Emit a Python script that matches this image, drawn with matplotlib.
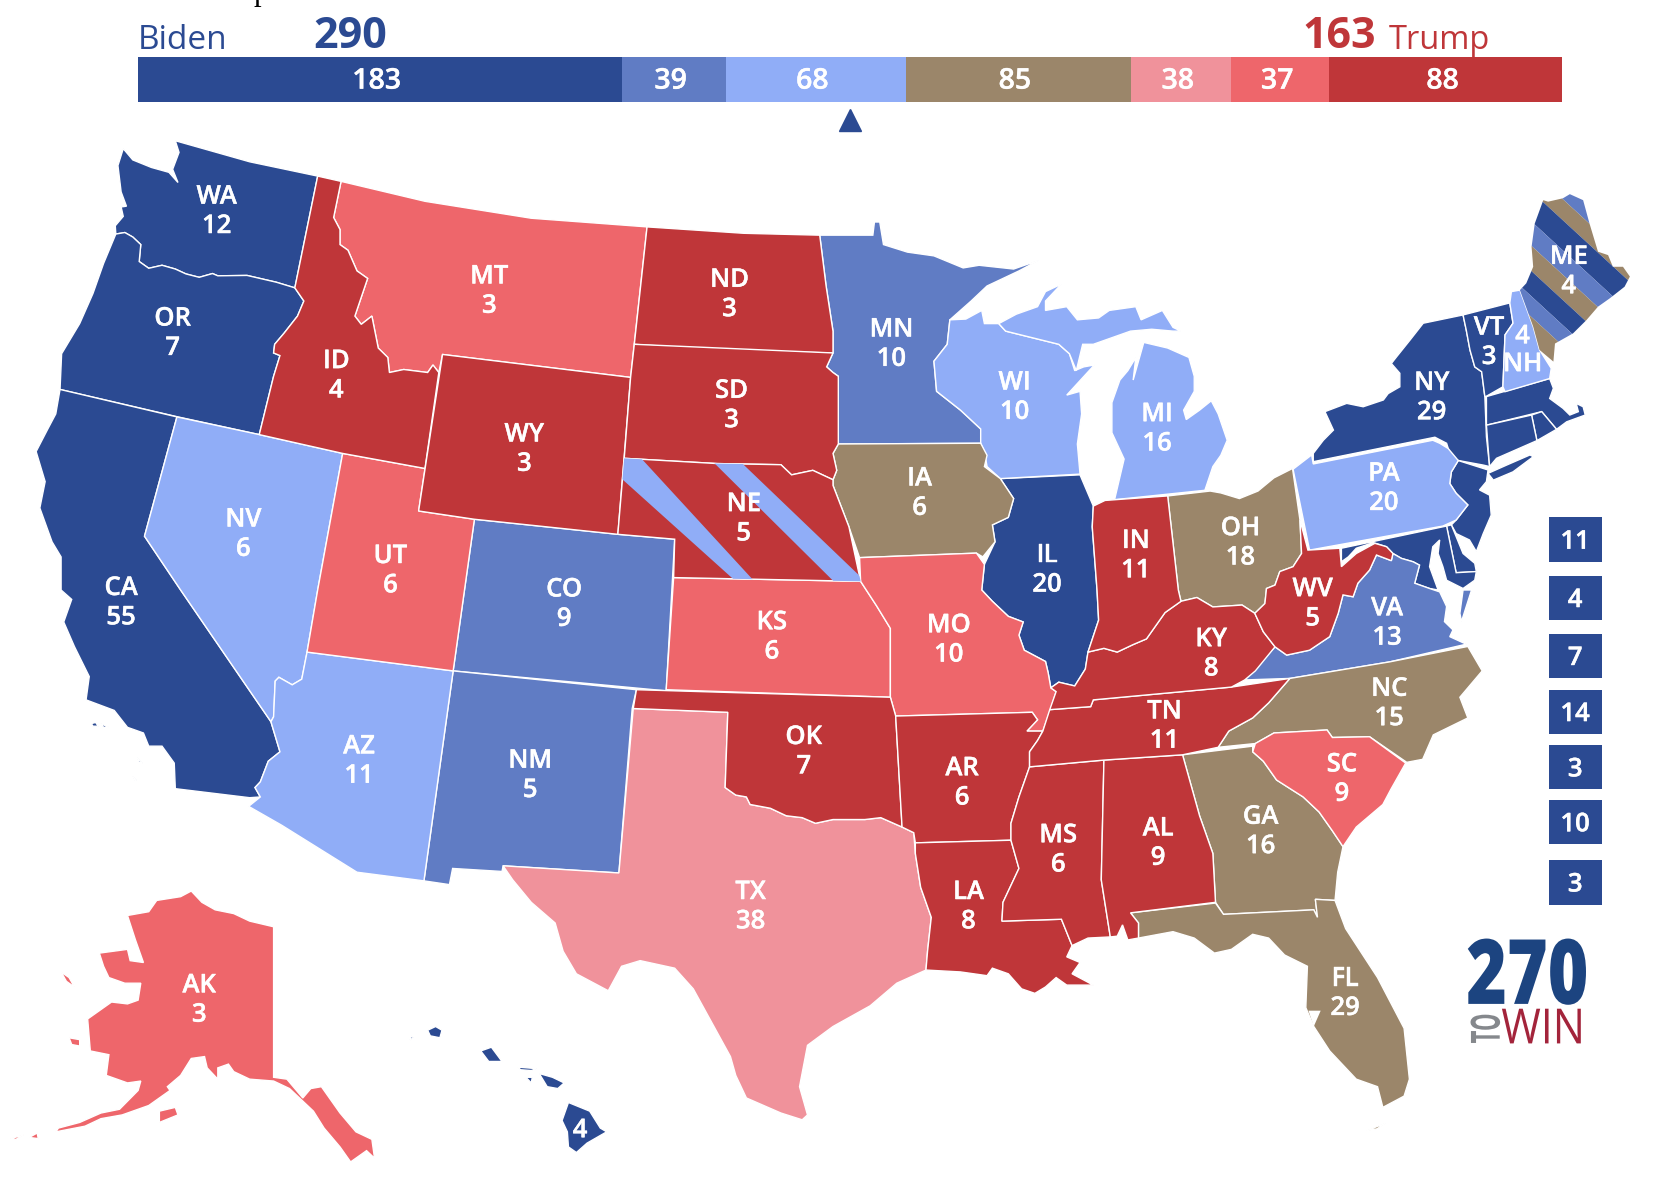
#!/usr/bin/env python3
"""270toWin style electoral map: rating bar on top, state shapes below."""

import matplotlib
matplotlib.use("Agg")
import matplotlib.pyplot as plt
import matplotlib.patheffects as pe
from matplotlib.patches import Polygon, Rectangle
from matplotlib.transforms import Affine2D

plt.rcParams["font.family"] = ["Open Sans", "DejaVu Sans"]

# Rating bar
BAR_VOTES = [183, 39, 68, 85, 38, 37, 88]
TOTAL_VOTES = 538
TO_WIN = 269
BIDEN_TOTAL = 290
TRUMP_TOTAL = 163

DARK = "#2b4a92"
MID = "#607cc4"
LIGHT = "#90adf7"
TAN = "#9b866a"
PINK = "#f0929b"
SALMON = "#ee666b"
RED = "#bf3639"
BAR_COLORS = [DARK, MID, LIGHT, TAN, PINK, SALMON, RED]

# Small north east states, listed beside the map
BOX_VOTES = [11, 4, 7, 14, 3, 10, 3]
BOX_TOPS = [1375, 1530, 1684, 1833, 1980, 2126, 2286]

# State outlines (map units: 3136 x 3136 over the figure)
WA = [(330,374),(470,430),(598,468),(555,765),(520,750),(465,732),(410,733),(400,727),(375,737),(350,728),(330,715),(305,705),(280,713),(262,695),(265,650),(250,630),(235,618),(218,622),(217,600),(232,575),(228,550),(238,548),(228,510),(222,440),(232,395),(250,425),(285,445),(318,458),(335,485),(325,450),(337,405)]
OR = [(218,622),(235,618),(250,630),(265,650),(262,695),(280,713),(305,705),(330,715),(350,728),(375,737),(400,727),(410,733),(465,732),(520,750),(555,765),(572,800),(560,840),(535,885),(517,915),(515,938),(527,945),(515,1000),(488,1155),(335,1108),(113,1035),(116,940),(150,860),(175,780),(195,700)]
CA = [(113,1035),(333,1108),(272,1425),(340,1568),(510,1918),(527,1998),(505,2023),(490,2078),(480,2093),(490,2118),(470,2120),(330,2096),(328,2028),(305,1983),(280,1983),(270,1948),(240,1933),(215,1888),(162,1860),(168,1798),(140,1718),(120,1653),(135,1593),(115,1568),(115,1480),(98,1440),(75,1350),(85,1280),(68,1200),(90,1140),(105,1100)]
NV = [(333,1108),(488,1155),(645,1205),(598,1568),(578,1733),(568,1805),(550,1820),(525,1800),(518,1810),(515,1905),(510,1918),(340,1568),(272,1425)]
ID = [(598,468),(642,482),(628,578),(640,610),(640,650),(655,665),(672,720),(692,740),(668,840),(680,862),(700,840),(712,925),(730,950),(733,990),(760,982),(805,990),(815,970),(826,990),(800,1245),(645,1205),(488,1155),(515,1000),(527,945),(515,938),(517,915),(535,885),(560,840),(572,800),(555,765)]
MT = [(642,482),(800,535),(1000,580),(1218,603),(1187,1003),(833,942),(826,990),(815,970),(805,990),(760,982),(733,990),(730,950),(712,925),(700,840),(680,862),(668,840),(692,740),(672,720),(655,665),(640,650),(640,610),(628,578)]
WY = [(833,942),(1187,1003),(1163,1420),(893,1380),(788,1358)]
UT = [(645,1205),(800,1245),(788,1358),(893,1380),(853,1783),(578,1733),(598,1568)]
CO = [(893,1380),(1163,1420),(1270,1433),(1254,1836),(853,1783)]
NM = [(853,1783),(1198,1833),(1190,1883),(1165,2320),(947,2301),(945,2316),(852,2308),(846,2351),(798,2341)]
AZ = [(578,1733),(853,1783),(798,2341),(672,2318),(530,2193),(468,2143),(490,2118),(480,2093),(490,2078),(505,2023),(527,1998),(510,1918),(515,1905),(518,1810),(525,1800),(550,1820),(568,1805)]
TX = [(1192,1883),(1370,1893),(1365,2093),(1385,2113),(1405,2118),(1412,2138),(1450,2148),(1480,2168),(1510,2173),(1535,2188),(1568,2178),(1628,2178),(1658,2173),(1698,2198),(1720,2213),(1723,2268),(1733,2358),(1753,2438),(1746,2528),(1743,2578),(1688,2613),(1638,2673),(1568,2728),(1520,2778),(1505,2888),(1520,2963),(1510,2976),(1470,2958),(1405,2918),(1385,2858),(1375,2808),(1305,2628),(1270,2573),(1205,2553),(1170,2568),(1145,2633),(1085,2588),(1060,2528),(1045,2453),(1000,2398),(965,2338),(947,2301),(1165,2320)]
OK = [(1198,1833),(1676,1853),(1686,1903),(1698,2198),(1658,2173),(1628,2178),(1568,2178),(1535,2188),(1510,2173),(1480,2168),(1450,2148),(1412,2138),(1405,2118),(1385,2113),(1365,2093),(1370,1893),(1192,1883)]
KS = [(1268,1535),(1620,1545),(1650,1610),(1676,1670),(1676,1853),(1254,1833)]
NE = [(1175,1218),(1350,1232),(1470,1235),(1490,1262),(1530,1250),(1568,1275),(1568,1290),(1598,1400),(1620,1545),(1268,1535),(1270,1433),(1163,1420)]
ND = [(1218,603),(1400,620),(1543,625),(1555,760),(1568,880),(1568,938),(1380,932),(1194,915)]
SD = [(1194,915),(1568,938),(1556,975),(1568,990),(1578,1000),(1578,1180),(1568,1205),(1575,1250),(1568,1275),(1530,1250),(1490,1262),(1470,1235),(1350,1232),(1175,1218),(1187,1003)]
MN = [(1543,625),(1643,625),(1646,590),(1656,590),(1663,650),(1708,670),(1758,680),(1813,712),(1843,705),(1908,715),(1955,692),(1918,720),(1858,760),(1828,800),(1788,850),(1783,915),(1758,960),(1763,1040),(1808,1090),(1846,1140),(1846,1178),(1578,1180),(1578,1000),(1568,990),(1556,975),(1568,938),(1568,880),(1555,760)]
WI = [(1788,850),(1818,848),(1848,825),(1853,860),(1880,860),(1893,880),(1993,915),(2013,940),(2023,985),(2040,975),(2060,970),(2008,1050),(2033,1040),(2036,1100),(2028,1180),(2033,1260),(1883,1272),(1858,1240),(1853,1200),(1846,1178),(1846,1140),(1808,1090),(1763,1040),(1758,960),(1783,915)]
MI_UPPER = [(1880,860),(1913,835),(1953,815),(1968,775),(1998,755),(1968,800),(1968,825),(2008,815),(2028,850),(2068,845),(2088,825),(2138,815),(2148,850),(2188,825),(2208,870),(2223,880),(2208,880),(2168,875),(2128,880),(2058,915),(2038,915),(2026,985),(2013,940),(1993,915),(1893,880)]
MI_LOWER = [(2153,910),(2198,925),(2238,950),(2248,1000),(2248,1040),(2228,1090),(2233,1115),(2258,1090),(2280,1065),(2293,1100),(2310,1170),(2298,1210),(2283,1240),(2268,1303),(2098,1328),(2116,1220),(2093,1150),(2093,1070),(2108,1010),(2123,985),(2138,950),(2133,1010),(2143,960)]
IA = [(1578,1180),(1846,1178),(1858,1210),(1853,1240),(1883,1272),(1908,1325),(1898,1375),(1868,1395),(1873,1440),(1850,1480),(1838,1470),(1618,1482),(1598,1400),(1568,1290),(1568,1275),(1575,1250),(1568,1205)]
MO = [(1618,1482),(1838,1470),(1853,1500),(1848,1568),(1868,1598),(1898,1638),(1926,1653),(1918,1688),(1928,1728),(1968,1758),(1973,1788),(1978,1828),(1988,1838),(1978,1883),(1963,1943),(1933,1943),(1953,1913),(1943,1893),(1686,1903),(1676,1853),(1676,1670),(1650,1610),(1620,1545)]
IL = [(1883,1272),(2033,1262),(2058,1345),(2056,1400),(2065,1568),(2068,1648),(2048,1733),(2043,1778),(2023,1823),(1993,1813),(1978,1828),(1973,1788),(1968,1758),(1928,1728),(1918,1688),(1926,1653),(1898,1638),(1868,1598),(1848,1568),(1853,1500),(1873,1440),(1868,1395),(1898,1375),(1908,1325)]
IN = [(2058,1345),(2080,1330),(2198,1318),(2218,1568),(2223,1598),(2193,1628),(2173,1668),(2158,1698),(2133,1713),(2103,1733),(2078,1723),(2048,1733),(2068,1648),(2065,1568),(2056,1400)]
OH = [(2198,1318),(2278,1305),(2298,1310),(2333,1325),(2368,1305),(2398,1270),(2433,1245),(2447,1382),(2450,1471),(2434,1506),(2409,1519),(2400,1555),(2384,1564),(2381,1604),(2362,1630),(2338,1608),(2283,1613),(2253,1588),(2223,1598),(2218,1568)]
PA = [(2434,1247),(2469,1209),(2472,1233),(2697,1170),(2710,1178),(2726,1192),(2745,1224),(2732,1254),(2729,1285),(2741,1311),(2763,1342),(2741,1382),(2716,1398),(2465,1462)]
NY = [(2754,837),(2760,877),(2767,930),(2776,975),(2789,988),(2795,1054),(2798,1161),(2804,1240),(2792,1236),(2742,1223),(2729,1205),(2723,1178),(2701,1162),(2472,1227),(2472,1205),(2491,1170),(2510,1143),(2494,1094),(2535,1072),(2566,1081),(2604,1063),(2613,1046),(2635,1028),(2635,992),(2619,966),(2629,948),(2654,904),(2679,859)]
NY_LONG_ISLAND = [(2801,1258),(2836,1236),(2880,1209),(2886,1214),(2848,1254),(2811,1276)]
VT = [(2754,837),(2842,805),(2848,859),(2833,890),(2829,1028),(2798,1053),(2795,1054),(2789,988),(2776,975),(2767,930),(2760,877)]
NH = [(2845,775),(2861,771),(2886,868),(2898,930),(2920,979),(2917,1006),(2833,1041),(2829,1028),(2833,890),(2848,859),(2842,805)]
ME = [(2905,532),(2914,536),(2942,527),(2955,516),(2980,532),(2992,594),(3008,669),(3027,678),(3036,709),(3055,709),(3068,735),(3058,762),(3030,793),(3008,815),(2986,851),(2961,886),(2927,913),(2924,961),(2898,930),(2886,868),(2861,771),(2873,753),(2886,709),(2883,656),(2889,594)]
MA = [(2798,1054),(2917,1006),(2924,1032),(2917,1059),(2942,1085),(2955,1103),(2971,1094),(2967,1072),(2980,1081),(2984,1103),(2949,1121),(2930,1141),(2902,1094),(2798,1130)]
RI = [(2883,1103),(2902,1094),(2930,1141),(2893,1171)]
CT = [(2798,1130),(2883,1103),(2893,1171),(2817,1218),(2804,1240),(2801,1187)]
NJ = [(2745,1224),(2801,1249),(2798,1280),(2785,1302),(2804,1316),(2807,1369),(2792,1418),(2779,1466),(2766,1435),(2741,1418),(2732,1395),(2741,1382),(2763,1342),(2741,1311),(2729,1285),(2732,1254)]
DE = [(2723,1398),(2732,1395),(2741,1426),(2754,1471),(2776,1497),(2779,1519),(2741,1522)]
MD = [(2525,1457),(2723,1398),(2741,1522),(2779,1519),(2776,1542),(2754,1564),(2723,1542),(2716,1506),(2707,1471),(2710,1435),(2697,1453),(2691,1506),(2707,1568),(2691,1564),(2663,1550),(2672,1502),(2660,1493),(2638,1484),(2622,1471),(2610,1453),(2585,1442),(2553,1457),(2538,1480),(2525,1493)]
WV = [(2447,1382),(2462,1462),(2522,1457),(2525,1506),(2553,1471),(2588,1444),(2610,1453),(2622,1471),(2619,1490),(2591,1475),(2578,1515),(2556,1550),(2547,1586),(2528,1581),(2519,1630),(2503,1692),(2465,1728),(2422,1741),(2400,1719),(2378,1679),(2362,1630),(2381,1604),(2384,1564),(2400,1555),(2409,1519),(2434,1506),(2450,1471)]
VA = [(2343,1807),(2400,1719),(2422,1741),(2465,1728),(2503,1692),(2519,1630),(2528,1581),(2547,1586),(2556,1550),(2578,1515),(2591,1475),(2619,1490),(2622,1471),(2638,1484),(2660,1493),(2672,1502),(2663,1550),(2691,1564),(2710,1573),(2723,1612),(2719,1652),(2735,1674),(2729,1692),(2760,1712),(2616,1759),(2428,1803)]
VA_SHORE = [(2754,1568),(2770,1568),(2760,1612),(2751,1652),(2748,1630)]
NC = [(2763,1718),(2790,1783),(2748,1853),(2763,1908),(2698,1953),(2678,2018),(2648,2026),(2578,1958),(2508,1960),(2498,1940),(2398,1948),(2363,1976),(2293,1986),(2313,1943),(2358,1908),(2388,1868),(2428,1803),(2616,1759)]
SC = [(2358,1998),(2363,1976),(2398,1948),(2498,1940),(2508,1960),(2578,1958),(2646,2028),(2618,2098),(2603,2138),(2553,2198),(2528,2250),(2508,2208),(2483,2158),(2453,2118),(2403,2073),(2378,2023)]
GA = [(2226,2006),(2358,1983),(2358,1998),(2378,2023),(2403,2073),(2453,2118),(2483,2158),(2508,2208),(2528,2250),(2518,2318),(2513,2393),(2476,2390),(2480,2438),(2473,2418),(2303,2430),(2288,2398),(2283,2268),(2258,2168)]
FL = [(2128,2426),(2288,2400),(2303,2430),(2473,2418),(2480,2438),(2476,2390),(2513,2393),(2533,2468),(2593,2598),(2643,2733),(2653,2868),(2643,2913),(2603,2943),(2593,2888),(2553,2868),(2503,2793),(2473,2728),(2458,2678),(2461,2568),(2418,2538),(2388,2493),(2358,2483),(2318,2523),(2286,2533),(2248,2493),(2208,2476),(2143,2493),(2143,2453)]
FL_KEYS = [(2573,3005),(2590,2995),(2608,2985),(2592,3000)]
FL_TAMPA_BAY = [(2463,2686),(2486,2686),(2473,2728)]
AL = [(2078,2020),(2226,2006),(2258,2168),(2283,2268),(2288,2398),(2128,2426),(2143,2453),(2143,2493),(2123,2498),(2113,2458),(2103,2488),(2090,2490),(2073,2338)]
MS = [(1938,2038),(2078,2020),(2073,2338),(2090,2490),(2048,2493),(2018,2513),(1998,2443),(1886,2448),(1888,2398),(1918,2308),(1908,2258),(1903,2233),(1903,2188),(1918,2118)]
LA = [(1723,2240),(1903,2233),(1908,2258),(1918,2308),(1888,2398),(1886,2448),(1998,2443),(2018,2513),(2008,2543),(2033,2558),(2018,2588),(2058,2618),(2008,2618),(1988,2598),(1968,2623),(1948,2640),(1923,2628),(1898,2588),(1868,2573),(1858,2593),(1808,2583),(1743,2578),(1746,2528),(1753,2438),(1733,2358),(1723,2268)]
AR = [(1686,1903),(1943,1893),(1953,1913),(1933,1943),(1963,1943),(1953,1968),(1938,1998),(1938,2038),(1918,2118),(1903,2188),(1903,2233),(1723,2240),(1720,2213),(1698,2198)]
TN = [(1976,1886),(2053,1878),(2058,1860),(2318,1826),(2428,1803),(2388,1868),(2358,1908),(2313,1943),(2293,1986),(2226,2006),(2078,2020),(1938,2038),(1938,1998),(1953,1968),(1963,1943)]
KY = [(1988,1838),(1978,1828),(1993,1813),(2023,1823),(2043,1778),(2048,1733),(2078,1723),(2103,1733),(2133,1713),(2158,1698),(2173,1668),(2193,1628),(2223,1598),(2253,1588),(2283,1613),(2338,1608),(2362,1630),(2378,1679),(2400,1719),(2363,1783),(2343,1807),(2318,1826),(2058,1860),(2053,1878),(1976,1886)]
AK = [(240,2433),(280,2423),(295,2393),(340,2383),(360,2368),(380,2398),(405,2418),(440,2428),(470,2448),(515,2463),(515,2863),(540,2868),(570,2918),(585,2893),(605,2888),(640,2958),(670,3008),(700,3028),(705,3078),(690,3058),(660,3088),(640,3048),(610,2998),(590,2953),(545,2893),(515,2873),(470,2868),(440,2848),(430,2828),(410,2838),(410,2868),(390,2838),(385,2808),(360,2813),(340,2858),(315,2888),(320,2898),(280,2938),(230,2963),(190,2973),(160,2993),(105,3008),(110,2998),(150,2983),(190,2958),(225,2948),(260,2898),(265,2873),(240,2878),(200,2858),(205,2803),(170,2793),(165,2708),(195,2678),(210,2663),(240,2668),(260,2658),(265,2613),(235,2613),(205,2598),(195,2568),(187,2533),(240,2523),(245,2553),(270,2558),(255,2498)]
AK_KODIAK = [(300,2953),(330,2943),(335,2963),(300,2983)]
AK_LAWRENCE = [(115,2583),(130,2598),(140,2623),(125,2608)]
AK_NUNIVAK = [(130,2758),(150,2763),(150,2780),(135,2776)]
AK_ALEUT_1 = [(20,3026),(45,3016),(30,3028)]
AK_ALEUT_2 = [(55,3023),(70,3011),(72,3026)]
HI_BIG = [(1070,2930),(1110,2953),(1130,2998),(1142,3008),(1105,3038),(1085,3063),(1070,3048),(1068,3008),(1058,2978)]
HI_MAUI = [(1015,2853),(1040,2863),(1062,2878),(1050,2893),(1030,2888)]
HI_MOLOKAI = [(975,2836),(1010,2840),(1000,2845),(980,2843)]
HI_LANAI = [(990,2863),(1002,2863),(1000,2878)]
HI_OAHU = [(905,2793),(925,2783),(945,2821),(920,2821)]
HI_KAUAI = [(805,2738),(820,2728),(832,2738),(828,2758),(810,2753)]
HI_NIIHAU = [(775,2753),(778,2758),(770,2766)]
CA_ISLAND_1 = [(172,1923),(180,1920),(185,1930),(175,1930)]
CA_ISLAND_2 = [(190,1923),(205,1933),(195,1933)]
CA_ISLAND_3 = [(258,2013),(268,2028),(262,2026)]
CA_ISLAND_4 = [(250,2063),(257,2073),(254,2075)]

DARK_SHAPES = [WA, OR, CA, IL, NY, NY_LONG_ISLAND, VT, MA, RI, CT, NJ, DE, MD, HI_BIG, HI_MAUI, HI_MOLOKAI,
               HI_LANAI, HI_OAHU, HI_KAUAI, HI_NIIHAU, CA_ISLAND_1, CA_ISLAND_2, CA_ISLAND_3, CA_ISLAND_4]
MID_SHAPES = [MN, CO, NM, VA, VA_SHORE]
LIGHT_SHAPES = [NV, AZ, WI, MI_UPPER, MI_LOWER, PA, NH]
TAN_SHAPES = [IA, OH, NC, GA, FL, FL_KEYS]
PINK_SHAPES = [TX]
SALMON_SHAPES = [MT, UT, KS, MO, SC, AK, AK_KODIAK, AK_LAWRENCE, AK_NUNIVAK, AK_ALEUT_1, AK_ALEUT_2]
RED_SHAPES = [ID, WY, ND, SD, NE, OK, AR, LA, MS, AL, TN, KY, IN, WV]

# Split states: Nebraska stripes and Maine bands
NE_STRIPE_1 = [(1170,1215),(1205,1215),(1420,1545),(1385,1545),(1170,1272)]
NE_STRIPE_2 = [(1344,1230),(1396,1230),(1640,1560),(1580,1560)]
ME_BAND_SLOPE = 1.3
ME_BAND_EDGES = [-3400, -3295, -3239, -3159, -3094, -3027, -2960, -2905, -2833, -2756]
ME_BAND_COLORS = [MID, TAN, DARK, MID, TAN, DARK, MID, TAN, DARK]

# Map labels
LABEL_STATES = ["WA","OR","ID","MT","ND","SD","WY","NE","NV","UT","CO","CA","KS","AZ","NM","OK","TX","AK",
                "MN","WI","MI","IA","IL","IN","OH","PA","NY","VT","ME","WV","MO","KY","VA","NC","TN","AR",
                "SC","GA","AL","MS","LA","FL"]
LABEL_VOTES = [12,7,4,3,3,3,3,5,6,6,9,55,6,11,5,7,38,3,
               10,10,16,6,20,11,18,20,29,3,4,5,10,8,13,15,11,6,
               9,16,9,6,8,29]
LABEL_X = [408,325,633,921,1373,1377,987,1400,458,735,1062,228,1453,676,998,1513,1413,375,
           1678,1910,2178,1731,1971,2138,2335,2605,2695,2803,2953,2471,1786,2280,2611,2615,2192,1811,
           2526,2373,2180,1992,1823,2532]
LABEL_Y = [556,880,993,768,777,1072,1188,1373,1414,1511,1600,1596,1687,2017,2055,1992,2404,2652,
           909,1050,1134,1305,1509,1471,1437,1292,1051,904,716,1599,1695,1732,1650,1864,1924,2075,
           2065,2204,2235,2253,2404,2634]
LINE_GAP = 39
LABEL_SHIFT = 7
LABEL_SIZE = 18.5

W_UNITS = 3136
BOLDER = [pe.withStroke(linewidth=0.3, foreground="white")]


class Squeeze(pe.AbstractPathEffect):
    """Narrow a text along its own direction, there is no condensed font here."""

    def __init__(self, sx):
        super().__init__()
        self.sx = sx

    def draw_path(self, renderer, gc, tpath, affine, rgbFace=None):
        renderer.draw_path(gc, tpath, Affine2D().scale(self.sx, 1) + affine, rgbFace)


def add_shapes(ax, shapes, color):
    for shape in shapes:
        ax.add_patch(Polygon(shape, closed=True, facecolor=color, edgecolor="white", linewidth=1.0, zorder=2))


def white_label(ax, x, y, s, size=LABEL_SIZE):
    ax.text(x, y, s, color="white", fontsize=size, fontweight="semibold", ha="center", va="center",
            zorder=5, path_effects=BOLDER)


def draw_bar(fig):
    # bar axes sits over the rating strip, its x axis counts electoral votes
    ax = fig.add_axes([259 / W_UNITS, 1 - 272 / W_UNITS, (2941 - 259) / W_UNITS, 120 / W_UNITS])
    ax.set_xlim(0, TOTAL_VOTES)
    ax.set_ylim(0, 1)
    ax.axis("off")
    left = 0
    for votes, color in zip(BAR_VOTES, BAR_COLORS):
        ax.barh(0.5, votes, height=1, left=left, color=color, linewidth=0)
        white_label(ax, left + votes / 2 - 1.2, 0.47, str(votes), size=20.5)
        left += votes
    ax.plot(TO_WIN, -0.38, marker="^", markersize=16.5, color=DARK, clip_on=False, linestyle="none")


def draw_header(ax):
    ax.text(260, 131, "Biden", color=DARK, fontsize=24, ha="left", va="baseline")
    ax.text(590, 128, str(BIDEN_TOTAL), color=DARK, fontsize=31, fontweight="bold", ha="left", va="baseline")
    ax.text(2590, 128, str(TRUMP_TOTAL), color=RED, fontsize=31, fontweight="bold", ha="right", va="baseline")
    ax.text(2615, 131, "Trump", color=RED, fontsize=23.5, ha="left", va="baseline")
    # tail of a cut off line above the chart
    ax.text(491, 0, "p", color="black", fontsize=22, family="Liberation Serif", ha="center", va="baseline")


def draw_map(ax):
    add_shapes(ax, DARK_SHAPES, DARK)
    add_shapes(ax, MID_SHAPES, MID)
    add_shapes(ax, LIGHT_SHAPES, LIGHT)
    add_shapes(ax, TAN_SHAPES, TAN)
    add_shapes(ax, PINK_SHAPES, PINK)
    add_shapes(ax, SALMON_SHAPES, SALMON)
    add_shapes(ax, RED_SHAPES, RED)
    ax.add_patch(Polygon(FL_TAMPA_BAY, closed=True, facecolor="white", edgecolor="none", zorder=3))

    # Nebraska districts
    ne_clip = Polygon(NE, closed=True, transform=ax.transData)
    for stripe in [NE_STRIPE_1, NE_STRIPE_2]:
        patch = Polygon(stripe, closed=True, facecolor=LIGHT, edgecolor="none", zorder=3)
        ax.add_patch(patch)
        patch.set_clip_path(ne_clip)

    # Maine districts
    me_clip = Polygon(ME, closed=True, transform=ax.transData)
    for i, color in enumerate(ME_BAND_COLORS):
        c0, c1 = ME_BAND_EDGES[i], ME_BAND_EDGES[i + 1]
        x0, x1 = 2800, 3100
        band = [(x0, ME_BAND_SLOPE * x0 + c0), (x1, ME_BAND_SLOPE * x1 + c0),
                (x1, ME_BAND_SLOPE * x1 + c1), (x0, ME_BAND_SLOPE * x0 + c1)]
        patch = Polygon(band, closed=True, facecolor=color, edgecolor="none", zorder=3)
        ax.add_patch(patch)
        patch.set_clip_path(me_clip)


def draw_labels(ax):
    for name, votes, x, y in zip(LABEL_STATES, LABEL_VOTES, LABEL_X, LABEL_Y):
        white_label(ax, x, y - LINE_GAP + LABEL_SHIFT, name)
        white_label(ax, x, y + LINE_GAP + LABEL_SHIFT, str(votes))
    # New Hampshire has its votes above the name, Hawaii only shows its votes
    white_label(ax, 2866, 888 + LABEL_SHIFT, "4")
    white_label(ax, 2866, 962 + LABEL_SHIFT, "NH")
    white_label(ax, 1092, 2998 + LABEL_SHIFT, "4")


def draw_boxes(ax):
    for votes, top in zip(BOX_VOTES, BOX_TOPS):
        ax.add_patch(Rectangle((2915, top), 100, 118, facecolor=DARK, edgecolor="none", zorder=2))
        white_label(ax, 2965, top + 59 + LABEL_SHIFT, str(votes))


def draw_logo(ax):
    ax.text(2760, 2668, "270", color="#1c4480", fontsize=65, fontweight=800, ha="left", va="baseline",
            path_effects=[Squeeze(0.77)])
    ax.text(2826, 2773, "WIN", color="#a3243b", fontsize=35, ha="left", va="baseline",
            path_effects=[Squeeze(0.88)])
    ax.text(2823, 2773, "TO", color="#85888c", fontsize=29, fontweight="bold", rotation=90,
            rotation_mode="anchor", ha="left", va="baseline", path_effects=[Squeeze(0.55)])


def main():
    fig = plt.figure(figsize=(16.66, 11.8), dpi=100)
    ax = fig.add_axes([0, 0, 1, 1])
    ax.set_xlim(0, W_UNITS)
    ax.set_ylim(W_UNITS, 0)
    ax.axis("off")

    draw_header(ax)
    draw_map(ax)
    draw_labels(ax)
    draw_boxes(ax)
    draw_logo(ax)
    draw_bar(fig)

    fig.savefig("out.png", dpi=100)
    plt.close(fig)


if __name__ == "__main__":
    main()
